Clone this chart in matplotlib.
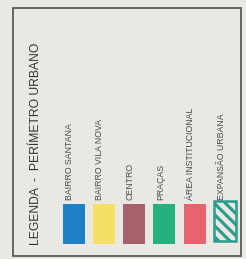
import numpy as np
import matplotlib
matplotlib.use("Agg")
import matplotlib.pyplot as plt
from matplotlib.patches import Rectangle

title = "LEGENDA  -  PERÍMETRO URBANO"
categories = ["BAIRRO SANTANA", "BAIRRO VILA NOVA", "CENTRO", "PRAÇAS",
              "ÁREA INSTITUCIONAL", "EXPANSÃO URBANA"]
colors = ["#1f80c6", "#f3e064", "#a5626a", "#25b07f", "#e8626f", "none"]
hatches = [None, None, None, None, None, "\\\\\\"]

paper = "#e9e8e2"
plt.rcParams["font.family"] = ["Liberation Sans", "DejaVu Sans"]
plt.rcParams["hatch.linewidth"] = 2.2

fig = plt.figure(figsize=(2.46, 2.59), dpi=100, facecolor=paper)
ax = fig.add_axes([0, 0, 1, 1])
ax.set_xlim(0, 246)
ax.set_ylim(259, 0)
ax.axis("off")

# outer frame
ax.add_patch(Rectangle((13, 8), 228, 248, fill=False, edgecolor="#5a5a58", lw=1.3))

ax.text(36, 245, title, rotation=90, ha="center", va="bottom",
        fontsize=8.7, color="#333333", fontweight="medium")

x = 73.5 + np.arange(len(categories)) * 30.3
bars = ax.bar(x, 40, bottom=204, width=22, color=colors, edgecolor="none")
for b, c, h in zip(bars, colors, hatches):
    if h:
        b.set_hatch(h)
        b.set_facecolor(paper)
        b.set_edgecolor("#2a9c8c")
        b.set_linewidth(1.8)
        b.set_y(201)

for xi, name in zip(x, categories):
    ax.text(xi - 4, 200, name, rotation=90, ha="center", va="bottom",
            fontsize=6.3, color="#4a4a4a")

fig.savefig("out.png", dpi=100, facecolor=paper)
